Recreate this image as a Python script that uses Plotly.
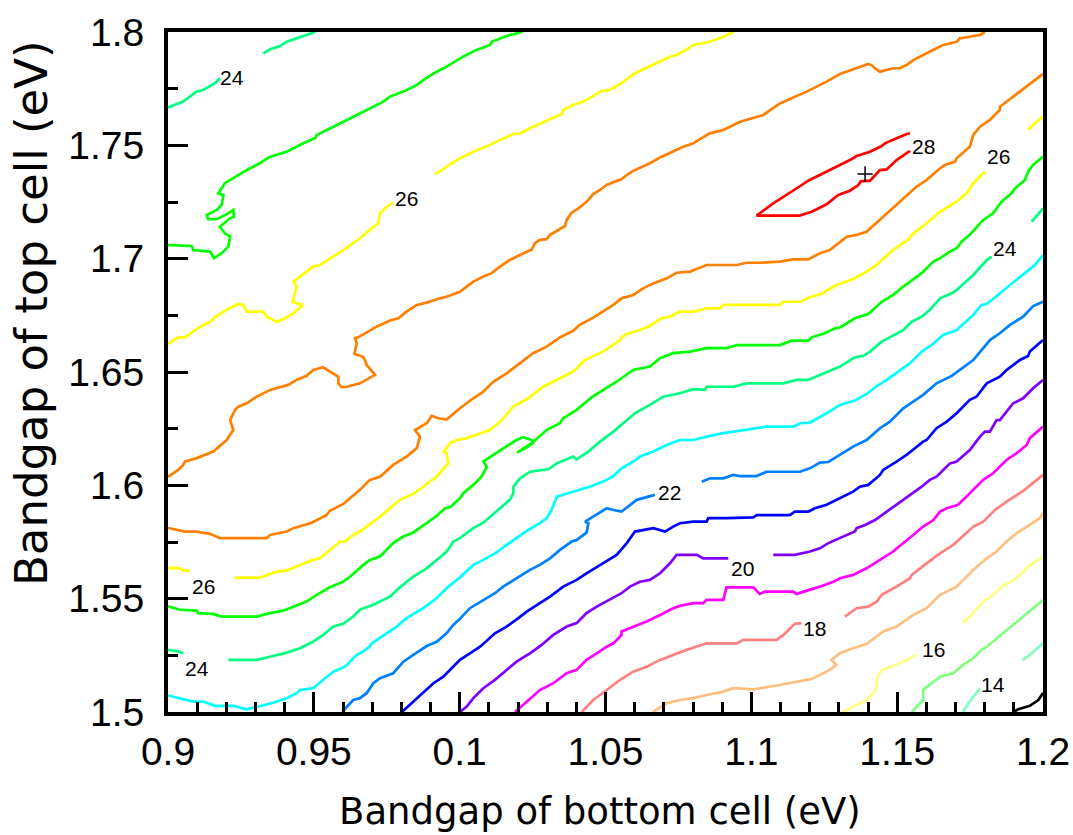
import plotly.graph_objects as go

# ---- contour levels and colours ----
levels = [28, 27, 26, 25, 24, 23, 22, 21, 20, 19, 18, 17, 16, 15, 14, 13]
level_colors = {
    28: "#ff0000", 27: "#ff8000", 26: "#ffff00", 25: "#00ff00", 24: "#00ff80",
    23: "#00ffff", 22: "#0080ff", 21: "#0000ff", 20: "#8000ff", 19: "#ff00ff",
    18: "#ff8080", 17: "#ffbf80", 16: "#ffff80", 15: "#80ff80", 14: "#80ffbf",
    13: "#000000",
}

# ---- contour paths (bottom-cell Eg, top-cell Eg); None separates pieces ----
c28 = [(1.1544,1.7553),(1.1533,1.7550),(1.1498,1.7531),(1.1458,1.7509),(1.1447,1.7497),(1.1407,1.7472),(1.1361,1.7453),(1.1338,1.7435),(1.1281,1.7399),(1.1224,1.7362),(1.1195,1.7344),(1.1173,1.7325),(1.1144,1.7300),(1.1121,1.7281),(1.1075,1.7244),(1.1018,1.7190),(1.1165,1.7190),(1.1207,1.7207),(1.1258,1.7240),(1.1298,1.7281),(1.1338,1.7300),(1.1367,1.7325),(1.1375,1.7341),(1.1407,1.7344),(1.1424,1.7369),(1.1441,1.7391),(1.1464,1.7394),(1.1498,1.7435),(1.1544,1.7476)]

c27 = [(1.1801,1.8),(1.1784,1.7987),(1.1749,1.7979),(1.1715,1.7972),(1.1704,1.7957),(1.1658,1.7943),(1.1635,1.7928),(1.1601,1.7906),(1.1555,1.7876),(1.1532,1.7854),(1.1509,1.7840),(1.1486,1.7840),(1.1441,1.7825),(1.1424,1.7840),(1.1412,1.7854),(1.1401,1.7859),(1.1361,1.7840),(1.1304,1.7815),(1.1258,1.7781),(1.1224,1.7759),(1.1190,1.7737),(1.1132,1.7704),(1.1098,1.7685),(1.1041,1.7634),(1.0961,1.7604),(1.0904,1.7568),(1.0858,1.7553),(1.0835,1.7536),(1.0801,1.7509),(1.0767,1.7494),(1.0732,1.7472),(1.0692,1.7450),(1.0652,1.7421),(1.0618,1.7399),(1.0590,1.7384),(1.0573,1.7369),(1.0555,1.7350),(1.0532,1.7340),(1.0504,1.7325),(1.0481,1.7303),(1.0458,1.7285),(1.0435,1.7251),(1.0407,1.7222),(1.0384,1.7203),(1.0367,1.7171),(1.0361,1.7144),(1.0344,1.7130),(1.0310,1.7105),(1.0298,1.7086),(1.0275,1.7083),(1.0258,1.7068),(1.0247,1.7041),(1.0207,1.7016),(1.0172,1.6994),(1.0138,1.6965),(1.0110,1.6936),(1.0081,1.6921),(1.0047,1.6899),(1.0024,1.6877),(1.0001,1.6854),(0.9955,1.6832),(0.9932,1.6825),(0.9887,1.6806),(0.9853,1.6796),(0.9818,1.6766),(0.9790,1.6737),(0.9761,1.6727),(0.9715,1.6700),(0.9652,1.6653),(0.9641,1.6649),(0.9647,1.6627),(0.9639,1.6580),(0.9667,1.6568),(0.9675,1.6553),(0.9681,1.6531),(0.9710,1.6487),(0.9658,1.6450),(0.9613,1.6435),(0.9595,1.6433),(0.9584,1.6450),(0.9584,1.6479),(0.9567,1.6494),(0.9532,1.6521),(0.9498,1.6509),(0.9475,1.6483),(0.9441,1.6465),(0.9412,1.6443),(0.9350,1.6421),(0.9304,1.6391),(0.9270,1.6362),(0.9241,1.6347),(0.9230,1.6333),(0.9213,1.6288),(0.9224,1.6244),(0.9201,1.6200),(0.9155,1.6149),(0.9098,1.6120),(0.9058,1.6105),(0.9052,1.6090),(0.9035,1.6068),(0.9007,1.6041),(0.9,1.6037),
       None,
       (0.9,1.5812),(0.9058,1.5796),(0.9098,1.5796),(0.9144,1.5786),(0.9178,1.5767),(0.9338,1.5767),(0.9350,1.5781),(0.9407,1.5796),(0.9430,1.5811),(0.9493,1.5835),(0.9544,1.5869),(0.9555,1.5888),(0.9601,1.5918),(0.9658,1.5980),(0.9692,1.6024),(0.9727,1.6038),(0.9772,1.6090),(0.9818,1.6127),(0.9853,1.6164),(0.9864,1.6215),(0.9847,1.6244),(0.9887,1.6274),(0.9904,1.6306),(0.9927,1.6296),(0.9955,1.6290),(1.0001,1.6340),(1.0047,1.6384),(1.0081,1.6413),(1.0115,1.6457),(1.0161,1.6494),(1.0207,1.6539),(1.0252,1.6583),(1.0298,1.6612),(1.0344,1.6653),(1.0389,1.6682),(1.0412,1.6708),(1.0458,1.6740),(1.0492,1.6766),(1.0527,1.6796),(1.0555,1.6825),(1.0595,1.6840),(1.0629,1.6869),(1.0664,1.6891),(1.0710,1.6913),(1.0744,1.6938),(1.0790,1.6943),(1.0847,1.6972),(1.0950,1.6972),(1.0984,1.6982),(1.1029,1.6982),(1.1098,1.6987),(1.1144,1.6997),(1.1195,1.6997),(1.1235,1.7024),(1.1269,1.7038),(1.1327,1.7097),(1.1361,1.7105),(1.1395,1.7119),(1.1452,1.7185),(1.1498,1.7237),(1.1532,1.7274),(1.1567,1.7318),(1.1601,1.7347),(1.1647,1.7399),(1.1664,1.7413),(1.1698,1.7428),(1.1704,1.7443),(1.1749,1.7494),(1.1761,1.7546),(1.1784,1.7582),(1.1818,1.7612),(1.1852,1.7656),(1.1852,1.7670),(1.1898,1.7715),(1.1944,1.7759),(1.2,1.7815)]

c26 = [(1.0938,1.8),(1.0904,1.7979),(1.0858,1.7957),(1.0801,1.7943),(1.0784,1.7928),(1.0744,1.7899),(1.0727,1.7894),(1.0687,1.7869),(1.0641,1.7840),(1.0601,1.7818),(1.0584,1.7803),(1.0555,1.7774),(1.0515,1.7744),(1.0487,1.7740),(1.0458,1.7718),(1.0424,1.7693),(1.0389,1.7678),(1.0355,1.7656),(1.0350,1.7638),(1.0310,1.7615),(1.0275,1.7597),(1.0241,1.7575),(1.0207,1.7553),(1.0184,1.7550),(1.0138,1.7524),(1.0104,1.7502),(1.0047,1.7472),(1.0012,1.7450),(0.9973,1.7421),(0.9955,1.7406),(0.9932,1.7384),(0.9915,1.7374),
       None,
       (0.9772,1.7247),(0.9750,1.7229),(0.9727,1.7200),(0.9721,1.7156),(0.9692,1.7127),(0.9658,1.7090),(0.9601,1.7038),(0.9555,1.7002),(0.9521,1.6972),(0.9498,1.6965),(0.9475,1.6943),(0.9453,1.6921),(0.9430,1.6899),(0.9441,1.6877),(0.9427,1.6810),(0.9462,1.6796),(0.9430,1.6759),(0.9401,1.6737),(0.9373,1.6722),(0.9338,1.6744),(0.9327,1.6766),(0.9270,1.6766),(0.9258,1.6796),(0.9241,1.6800),(0.9201,1.6774),(0.9155,1.6737),(0.9150,1.6725),(0.9110,1.6700),(0.9058,1.6653),(0.9035,1.6653),(0.9007,1.6629),(0.9,1.6624),
       None,
       (0.9,1.5636),(0.9041,1.5634),(0.9052,1.5624),(0.9075,1.5624),
       None,
       (0.9230,1.5593),(0.9315,1.5593),(0.9373,1.5619),(0.9407,1.5624),(0.9453,1.5649),(0.9498,1.5671),(0.9521,1.5678),(0.9555,1.5715),(0.9590,1.5752),(0.9607,1.5752),(0.9635,1.5781),(0.9658,1.5796),(0.9704,1.5840),(0.9727,1.5862),(0.9795,1.5936),(0.9841,1.5962),(0.9887,1.6006),(0.9921,1.6038),(0.9961,1.6097),(0.9955,1.6141),(0.9946,1.6149),(0.9967,1.6186),(0.9990,1.6200),(1.0024,1.6208),(1.0104,1.6244),(1.0144,1.6288),(1.0184,1.6347),(1.0235,1.6384),(1.0287,1.6435),(1.0332,1.6465),(1.0389,1.6502),(1.0430,1.6553),(1.0492,1.6590),(1.0550,1.6641),(1.0555,1.6653),(1.0573,1.6668),(1.0618,1.6685),(1.0652,1.6703),(1.0692,1.6737),(1.0721,1.6744),(1.0755,1.6766),(1.0801,1.6766),(1.0847,1.6781),(1.0892,1.6781),(1.0904,1.6796),(1.1098,1.6796),(1.1110,1.6810),(1.1172,1.6810),(1.1190,1.6825),(1.1246,1.6847),(1.1258,1.6859),(1.1292,1.6884),(1.1327,1.6899),(1.1355,1.6914),(1.1395,1.6943),(1.1430,1.6972),(1.1447,1.6994),(1.1486,1.7038),(1.1544,1.7090),(1.1550,1.7105),(1.1601,1.7156),(1.1647,1.7207),(1.1704,1.7251),(1.1738,1.7288),(1.1761,1.7333),(1.1784,1.7362),(1.1801,1.7384),
       None,
       (1.1949,1.7568),(1.1966,1.7590),(1.2,1.7626)]

c25 = [(1.0214,1.8),(1.0161,1.7982),(1.0110,1.7957),(1.0104,1.7943),(1.0058,1.7921),(1.0012,1.7891),(0.9955,1.7847),(0.9921,1.7825),(0.9875,1.7788),(0.9853,1.7766),(0.9807,1.7737),(0.9761,1.7715),(0.9738,1.7693),(0.9692,1.7663),(0.9658,1.7638),(0.9613,1.7612),(0.9567,1.7582),(0.9510,1.7546),(0.9504,1.7531),(0.9464,1.7509),(0.9407,1.7472),(0.9350,1.7450),(0.9315,1.7421),(0.9270,1.7391),(0.9213,1.7347),(0.9195,1.7333),(0.9172,1.7288),(0.9190,1.7281),(0.9184,1.7237),(0.9167,1.7215),(0.9133,1.7193),(0.9138,1.7174),(0.9167,1.7174),(0.9207,1.7200),(0.9224,1.7215),(0.9226,1.7185),(0.9213,1.7178),(0.9178,1.7141),(0.9195,1.7112),(0.9213,1.7097),(0.9207,1.7053),(0.9184,1.7024),(0.9158,1.7002),(0.9144,1.7031),(0.9087,1.7038),(0.9081,1.7056),(0.9007,1.7060),(0.9,1.7060),
       None,
       (0.9,1.5466),(0.9041,1.5451),(0.9098,1.5447),(0.9104,1.5436),(0.9155,1.5433),(0.9184,1.5421),(0.9304,1.5421),(0.9338,1.5433),(0.9395,1.5447),(0.9430,1.5465),(0.9475,1.5487),(0.9510,1.5517),(0.9555,1.5550),(0.9601,1.5575),(0.9624,1.5597),(0.9670,1.5649),(0.9692,1.5671),(0.9727,1.5686),(0.9772,1.5745),(0.9807,1.5774),(0.9841,1.5792),(0.9887,1.5833),(0.9921,1.5865),(0.9950,1.5899),(0.9967,1.5903),(1.0001,1.5943),(1.0012,1.5965),(1.0047,1.6002),(1.0075,1.6038),(1.0093,1.6082),(1.0081,1.6105),(1.0115,1.6134),(1.0161,1.6171),(1.0195,1.6200),(1.0218,1.6212),(1.0247,1.6200),(1.0252,1.6188),(1.0230,1.6168),(1.0197,1.6144),(1.0207,1.6152),(1.0247,1.6186),(1.0298,1.6244),(1.0344,1.6274),(1.0355,1.6296),(1.0401,1.6333),(1.0453,1.6389),(1.0492,1.6421),(1.0538,1.6457),(1.0595,1.6509),(1.0652,1.6524),(1.0687,1.6561),(1.0732,1.6583),(1.0790,1.6590),(1.0847,1.6605),(1.0915,1.6605),(1.0950,1.6619),(1.1098,1.6619),(1.1138,1.6638),(1.1195,1.6638),(1.1207,1.6653),(1.1252,1.6671),(1.1287,1.6693),(1.1304,1.6697),(1.1355,1.6737),(1.1401,1.6756),(1.1447,1.6810),(1.1486,1.6840),(1.1521,1.6877),(1.1584,1.6936),(1.1624,1.6987),(1.1647,1.7002),(1.1681,1.7031),(1.1704,1.7046),(1.1721,1.7075),(1.1749,1.7105),(1.1795,1.7171),(1.1829,1.7200),(1.1858,1.7251),(1.1892,1.7288),(1.1904,1.7310),(1.1938,1.7347),(1.1949,1.7384),(1.1966,1.7413),(1.2,1.7450)]

c24 = [(0.9,1.7667),(0.9052,1.7693),(0.9098,1.7737),(0.9121,1.7744),(0.9161,1.7774),(0.9178,1.7796),
       None,
       (0.9327,1.7906),(0.9350,1.7924),(0.9384,1.7938),(0.9407,1.7957),(0.9441,1.7972),(0.9475,1.7987),(0.9504,1.8),
       None,
       (0.9,1.5274),(0.9041,1.5266),(0.9052,1.5259),
       None,
       (0.9207,1.5230),(0.9304,1.5230),(0.9350,1.5244),(0.9395,1.5256),(0.9407,1.5262),(0.9453,1.5281),(0.9498,1.5311),(0.9532,1.5340),(0.9567,1.5377),(0.9601,1.5389),(0.9635,1.5421),(0.9658,1.5451),(0.9704,1.5473),(0.9761,1.5509),(0.9795,1.5550),(0.9841,1.5597),(0.9887,1.5634),(0.9921,1.5671),(0.9955,1.5707),(0.9967,1.5729),(0.9978,1.5752),(1.0001,1.5767),(1.0047,1.5811),(1.0081,1.5835),(1.0132,1.5891),(1.0172,1.5936),(1.0184,1.5965),(1.0184,1.5994),(1.0207,1.6031),(1.0241,1.6060),(1.0304,1.6071),(1.0333,1.6097),(1.0389,1.6127),(1.0401,1.6115),(1.0441,1.6149),(1.0481,1.6193),(1.0527,1.6237),(1.0561,1.6274),(1.0601,1.6318),(1.0652,1.6355),(1.0698,1.6391),(1.0755,1.6406),(1.0801,1.6424),(1.0841,1.6421),(1.0847,1.6435),(1.0938,1.6435),(1.0984,1.6450),(1.1110,1.6450),(1.1155,1.6465),(1.1195,1.6465),(1.1235,1.6487),(1.1252,1.6494),(1.1304,1.6524),(1.1355,1.6565),(1.1384,1.6571),(1.1407,1.6590),(1.1447,1.6634),(1.1521,1.6685),(1.1550,1.6722),(1.1584,1.6744),(1.1612,1.6774),(1.1647,1.6825),(1.1687,1.6847),(1.1704,1.6862),(1.1761,1.6928),(1.1807,1.6994),(1.1824,1.7009),
       None,
       (1.1961,1.7163),(1.2,1.7221)]

c23 = [(0.9,1.5073),(0.9041,1.5061),(0.9087,1.5046),(0.9121,1.5046),(0.9161,1.5027),(0.9224,1.5027),(0.9270,1.5012),(0.9287,1.5017),(0.9315,1.5027),(0.9361,1.5041),(0.9407,1.5061),(0.9441,1.5083),(0.9453,1.5097),(0.9498,1.5105),(0.9532,1.5142),(0.9567,1.5178),(0.9607,1.5200),(0.9647,1.5252),(0.9658,1.5259),(0.9692,1.5288),(0.9698,1.5303),(0.9750,1.5347),(0.9784,1.5377),(0.9818,1.5414),(0.9875,1.5458),(0.9921,1.5502),(0.9955,1.5546),(1.0001,1.5594),(1.0047,1.5649),(1.0081,1.5671),(1.0121,1.5700),(1.0161,1.5737),(1.0195,1.5767),(1.0235,1.5803),(1.0275,1.5833),(1.0298,1.5855),(1.0315,1.5891),(1.0333,1.5950),(1.0372,1.5965),(1.0412,1.5980),(1.0453,1.5997),(1.0504,1.6024),(1.0527,1.6041),(1.0555,1.6075),(1.0595,1.6105),(1.0618,1.6127),(1.0664,1.6149),(1.0710,1.6178),(1.0755,1.6200),(1.0801,1.6200),(1.0847,1.6215),(1.0904,1.6230),(1.0961,1.6240),(1.1029,1.6252),(1.1052,1.6259),(1.1144,1.6259),(1.1167,1.6274),(1.1201,1.6277),(1.1258,1.6318),(1.1304,1.6355),(1.1355,1.6374),(1.1395,1.6403),(1.1430,1.6438),(1.1464,1.6465),(1.1492,1.6491),(1.1544,1.6539),(1.1584,1.6590),(1.1618,1.6619),(1.1658,1.6663),(1.1704,1.6685),(1.1761,1.6752),(1.1789,1.6796),(1.1807,1.6800),(1.1852,1.6847),(1.1898,1.6899),(1.1944,1.6943),(1.1972,1.6972),(1.2,1.7016)]

c22 = [(0.9597,1.5),(0.9635,1.5053),(0.9658,1.5061),(0.9681,1.5083),(0.9704,1.5127),(0.9727,1.5149),(0.9772,1.5171),(0.9807,1.5222),(0.9841,1.5252),(0.9887,1.5291),(0.9921,1.5310),(0.9955,1.5347),(0.9978,1.5384),(1.0001,1.5411),(1.0035,1.5458),(1.0081,1.5494),(1.0121,1.5524),(1.0149,1.5553),(1.0195,1.5590),(1.0241,1.5627),(1.0275,1.5649),(1.0310,1.5678),(1.0344,1.5715),(1.0384,1.5752),(1.0401,1.5759),(1.0435,1.5791),(1.0441,1.5833),(1.0430,1.5840),(1.0458,1.5862),(1.0504,1.5899),(1.0527,1.5891),(1.0555,1.5884),(1.0607,1.5936),(1.0669,1.5958),
       None,
       (1.0830,1.6016),(1.0858,1.6031),(1.0904,1.6031),(1.0938,1.6046),(1.0961,1.6041),(1.1018,1.6041),(1.1052,1.6060),(1.1167,1.6060),(1.1201,1.6075),(1.1235,1.6100),(1.1264,1.6103),(1.1304,1.6134),(1.1349,1.6171),(1.1395,1.6200),(1.1441,1.6252),(1.1475,1.6281),(1.1521,1.6340),(1.1555,1.6369),(1.1589,1.6399),(1.1635,1.6450),(1.1687,1.6483),(1.1715,1.6509),(1.1761,1.6553),(1.1818,1.6641),(1.1852,1.6671),(1.1887,1.6708),(1.1932,1.6744),(1.1966,1.6791),(1.2,1.6810)]

c21 = [(0.9802,1.5),(0.9841,1.5046),(0.9853,1.5061),(0.9887,1.5097),(0.9910,1.5127),(0.9944,1.5156),(0.9967,1.5186),(1.0001,1.5230),(1.0035,1.5259),(1.0070,1.5288),(1.0121,1.5347),(1.0161,1.5377),(1.0201,1.5414),(1.0230,1.5443),(1.0275,1.5480),(1.0310,1.5509),(1.0355,1.5553),(1.0401,1.5583),(1.0435,1.5612),(1.0492,1.5656),(1.0538,1.5693),(1.0573,1.5745),(1.0601,1.5796),(1.0664,1.5811),(1.0704,1.5796),(1.0732,1.5818),(1.0755,1.5833),(1.0801,1.5840),(1.0847,1.5840),(1.0852,1.5855),(1.0915,1.5855),(1.1007,1.5859),(1.1018,1.5869),(1.1132,1.5869),(1.1149,1.5884),(1.1195,1.5884),(1.1218,1.5899),(1.1258,1.5914),(1.1304,1.5943),(1.1349,1.5972),(1.1372,1.5994),(1.1401,1.6002),(1.1441,1.6046),(1.1452,1.6068),(1.1498,1.6105),(1.1532,1.6134),(1.1589,1.6193),(1.1601,1.6200),(1.1635,1.6252),(1.1670,1.6281),(1.1704,1.6318),(1.1749,1.6377),(1.1772,1.6391),(1.1807,1.6450),(1.1852,1.6479),(1.1875,1.6509),(1.1921,1.6553),(1.1949,1.6571),(1.1955,1.6590),(1.2,1.6641)]

c20 = [(1.0001,1.5),(1.0024,1.5024),(1.0047,1.5061),(1.0081,1.5105),(1.0121,1.5142),(1.0161,1.5186),(1.0195,1.5222),(1.0241,1.5259),(1.0281,1.5296),(1.0321,1.5340),(1.0367,1.5377),(1.0401,1.5392),(1.0435,1.5436),(1.0470,1.5465),(1.0515,1.5495),(1.0555,1.5524),(1.0584,1.5553),(1.0618,1.5575),(1.0652,1.5583),(1.0687,1.5612),(1.0721,1.5656),(1.0744,1.5693),(1.0813,1.5693),(1.0835,1.5678),(1.0921,1.5678),
       None,
       (1.1075,1.5693),(1.1149,1.5693),(1.1201,1.5708),(1.1235,1.5722),(1.1264,1.5745),(1.1304,1.5767),(1.1355,1.5796),(1.1361,1.5811),(1.1390,1.5825),(1.1424,1.5847),(1.1464,1.5884),(1.1504,1.5921),(1.1544,1.5958),(1.1584,1.5994),(1.1612,1.6024),(1.1635,1.6038),(1.1681,1.6097),(1.1704,1.6105),(1.1749,1.6156),(1.1784,1.6215),(1.1801,1.6237),(1.1818,1.6237),(1.1841,1.6288),(1.1852,1.6288),(1.1875,1.6325),(1.1898,1.6362),(1.1932,1.6384),(1.1966,1.6428),(1.2,1.6465)]

c19 = [(1.0190,1.5),(1.0218,1.5031),(1.0252,1.5068),(1.0275,1.5097),(1.0321,1.5127),(1.0367,1.5171),(1.0401,1.5186),(1.0435,1.5230),(1.0470,1.5259),(1.0504,1.5288),(1.0527,1.5303),(1.0555,1.5340),(1.0555,1.5355),(1.0595,1.5377),(1.0641,1.5399),(1.0687,1.5428),(1.0732,1.5458),(1.0755,1.5468),(1.0801,1.5480),(1.0835,1.5480),(1.0847,1.5495),(1.0904,1.5495),(1.0915,1.5550),(1.1007,1.5550),(1.1029,1.5521),(1.1047,1.5531),(1.1144,1.5531),(1.1155,1.5521),(1.1201,1.5539),(1.1235,1.5553),(1.1281,1.5575),(1.1304,1.5590),(1.1349,1.5605),(1.1395,1.5634),(1.1441,1.5671),(1.1486,1.5708),(1.1555,1.5781),(1.1589,1.5818),(1.1624,1.5847),(1.1647,1.5884),(1.1670,1.5899),(1.1709,1.5914),(1.1749,1.5965),(1.1772,1.5994),(1.1795,1.6024),(1.1829,1.6053),(1.1863,1.6097),(1.1875,1.6112),(1.1910,1.6142),(1.1944,1.6178),(1.1955,1.6208),(1.2,1.6259)]

c18 = [(1.0419,1.5),(1.0458,1.5053),(1.0504,1.5097),(1.0550,1.5142),(1.0595,1.5178),(1.0641,1.5200),(1.0687,1.5230),(1.0732,1.5252),(1.0778,1.5274),(1.0847,1.5303),(1.0950,1.5303),(1.0972,1.5318),(1.1087,1.5318),(1.1110,1.5340),(1.1149,1.5389),(1.1172,1.5392),
       None,
       (1.1321,1.5421),(1.1361,1.5458),(1.1401,1.5465),(1.1430,1.5487),(1.1447,1.5517),(1.1498,1.5553),(1.1544,1.5590),(1.1550,1.5605),(1.1601,1.5656),(1.1647,1.5700),(1.1692,1.5737),(1.1761,1.5818),(1.1795,1.5840),(1.1835,1.5891),(1.1875,1.5928),(1.1932,1.5975),(1.1966,1.6011),(1.2,1.6046)]

c17 = [(1.0663,1.5),(1.0710,1.5039),(1.0755,1.5053),(1.0801,1.5061),(1.0847,1.5075),(1.0904,1.5090),(1.0938,1.5105),(1.0961,1.5104),(1.1007,1.5100),(1.1098,1.5119),(1.1167,1.5134),(1.1207,1.5146),(1.1269,1.5186),(1.1292,1.5208),(1.1275,1.5230),(1.1304,1.5259),(1.1349,1.5281),(1.1395,1.5300),(1.1452,1.5355),(1.1498,1.5377),(1.1555,1.5428),(1.1601,1.5458),(1.1647,1.5517),(1.1704,1.5553),(1.1761,1.5627),(1.1807,1.5678),(1.1841,1.5708),(1.1875,1.5752),(1.1910,1.5789),(1.1955,1.5825),(1.1989,1.5855),(1.2,1.5878)]

c16 = [(1.1314,1.5),(1.1361,1.5031),(1.1395,1.5053),(1.1424,1.5090),(1.1430,1.5119),(1.1430,1.5149),(1.1447,1.5186),(1.1498,1.5208),(1.1567,1.5252),
       None,
       (1.1726,1.5392),(1.1761,1.5436),(1.1795,1.5487),(1.1829,1.5517),(1.1863,1.5556),(1.1910,1.5590),(1.1944,1.5634),(1.1966,1.5656),(1.2,1.5683)]

c15 = [(1.1550,1.5),(1.1589,1.5053),(1.1589,1.5097),(1.1624,1.5134),(1.1647,1.5156),(1.1692,1.5171),(1.1726,1.5208),(1.1761,1.5237),(1.1790,1.5274),(1.1807,1.5288),(1.1841,1.5325),(1.1875,1.5362),(1.1910,1.5399),(1.1944,1.5436),(1.2,1.5494)]

c14 = [(1.1725,1.5),(1.1749,1.5046),(1.1784,1.5105),
       None,
       (1.1930,1.5230),(1.1955,1.5252),(1.2,1.5303)]

c13 = [(1.1898,1.5),(1.1915,1.5012),(1.1955,1.5027),(1.1984,1.5053),(1.2,1.5084)]

contours = {28: c28, 27: c27, 26: c26, 25: c25, 24: c24, 23: c23, 22: c22, 21: c21,
            20: c20, 19: c19, 18: c18, 17: c17, 16: c16, 15: c15, 14: c14, 13: c13}

# ---- inline contour labels ----
label_text = ["24", "26", "28", "26", "24", "22", "20", "18", "16", "14", "26", "24"]
label_x = [0.9221, 0.9818, 1.1589, 1.1848, 1.1871, 1.0721, 1.0970, 1.1218, 1.1624, 1.1829, 0.9120, 0.9098]
label_y = [1.7799, 1.7266, 1.7495, 1.7451, 1.7045, 1.5967, 1.5633, 1.5367, 1.5274, 1.5120, 1.5554, 1.5192]

# ---- maximum marker ----
max_x = [1.1390]
max_y = [1.7374]

# ---- axis ticks ----
x_tickvals = [0.9, 0.95, 1.0, 1.05, 1.1, 1.15, 1.2]
x_ticktext = ["0.9", "0.95", "0.1", "1.05", "1.1", "1.15", "1.2"]
y_tickvals = [1.5, 1.55, 1.6, 1.65, 1.7, 1.75, 1.8]
y_ticktext = ["1.5", "1.55", "1.6", "1.65", "1.7", "1.75", "1.8"]

fig = go.Figure()
for lev in levels:
    pts = contours[lev]
    xs = [p[0] if p is not None else None for p in pts]
    ys = [p[1] if p is not None else None for p in pts]
    fig.add_trace(go.Scatter(x=xs, y=ys, mode="lines", connectgaps=False,
                             line=dict(color=level_colors[lev], width=2.7),
                             hoverinfo="skip", showlegend=False))

fig.add_trace(go.Scatter(x=max_x, y=max_y, mode="markers", showlegend=False, hoverinfo="skip",
                         marker=dict(symbol="cross-thin", size=11, color="black",
                                     line=dict(color="black", width=1.5))))

for t, lx, ly in zip(label_text, label_x, label_y):
    fig.add_annotation(x=lx, y=ly, xref="x", yref="y", text=t, showarrow=False,
                       font=dict(family="Liberation Sans, Arial, sans-serif", size=21, color="black"))

tick_font = dict(family="Liberation Sans, Arial, sans-serif", size=39, color="black")

fig.update_xaxes(range=[0.9, 1.2], tickmode="array", tickvals=x_tickvals, ticktext=x_ticktext,
                 ticks="inside", ticklen=20, tickwidth=2.5, tickcolor="black",
                 showline=True, linewidth=4, linecolor="black", mirror=True, automargin=False,
                 showgrid=False, zeroline=False, tickfont=tick_font, ticklabelstandoff=2,
                 minor=dict(tickmode="linear", tick0=0.9, dtick=0.01, ticks="inside",
                            ticklen=10, tickwidth=2.5, tickcolor="black", showgrid=False))
fig.update_yaxes(range=[1.5, 1.8], tickmode="array", tickvals=y_tickvals, ticktext=y_ticktext,
                 ticks="inside", ticklen=20, tickwidth=2.5, tickcolor="black",
                 showline=True, linewidth=4, linecolor="black", mirror=True, automargin=False,
                 showgrid=False, zeroline=False, tickfont=tick_font, ticklabelstandoff=12,
                 minor=dict(tickmode="linear", tick0=1.5, dtick=0.025, ticks="inside",
                            ticklen=10, tickwidth=2.5, tickcolor="black", showgrid=False))

fig.add_annotation(text="Bandgap of bottom cell (eV)", xref="paper", yref="paper",
                   x=0.4937, y=-0.147, showarrow=False, xanchor="center", yanchor="middle",
                   font=dict(family="DejaVu Sans, sans-serif", size=37, color="black"))
fig.add_annotation(text="Bandgap of top cell (eV)", xref="paper", yref="paper",
                   x=-0.1554, y=0.5868, showarrow=False, xanchor="center", yanchor="middle",
                   textangle=-90,
                   font=dict(family="DejaVu Sans, sans-serif", size=45, color="black"))

fig.update_layout(width=1073, height=835, margin=dict(l=168, r=30, t=32, b=123, autoexpand=False),
                  plot_bgcolor="white", paper_bgcolor="white", showlegend=False)

fig.write_html("out.html")
